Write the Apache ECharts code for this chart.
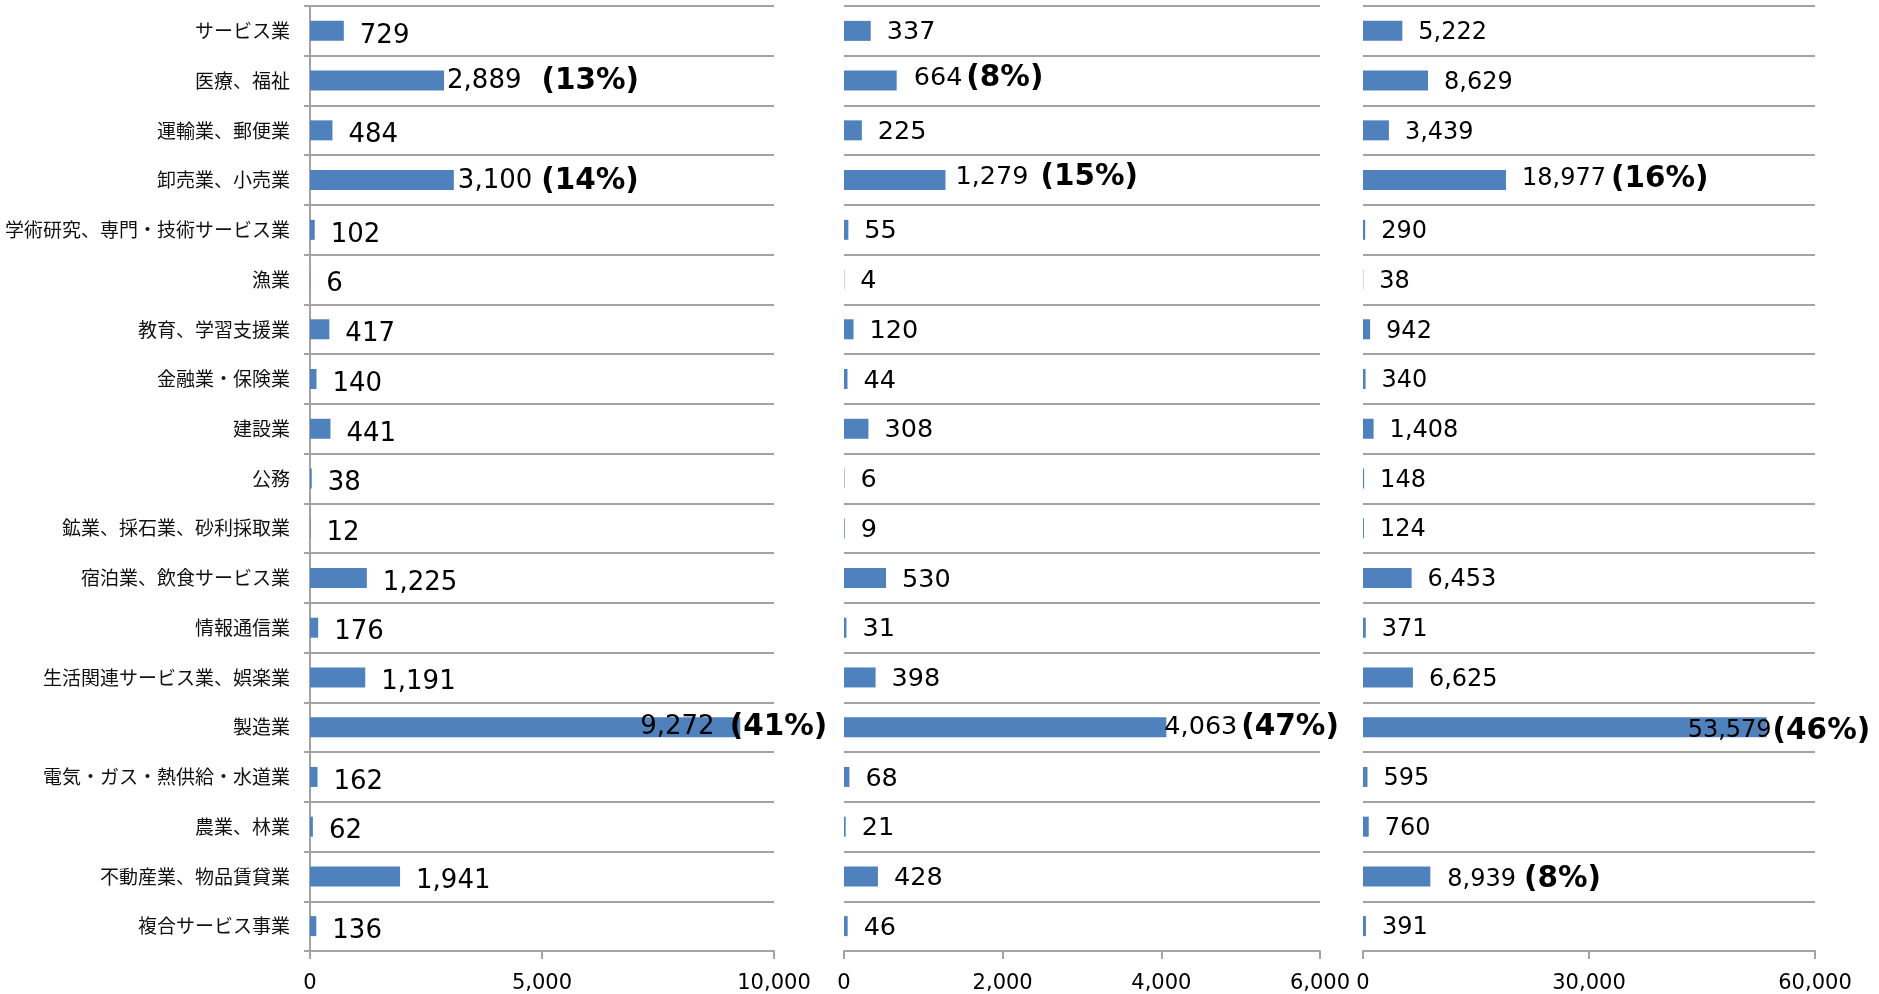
<!DOCTYPE html>
<html><head><meta charset="utf-8">
<script src="https://cdn.jsdelivr.net/npm/echarts@6/dist/echarts.min.js"></script>
<style>html,body{margin:0;padding:0;background:#fff;}#c{width:1879px;height:994px;}</style>
</head><body><div id="c"></div>
<script>
var categories = ['サービス業','医療、福祉','運輸業、郵便業','卸売業、小売業','学術研究、専門・技術サービス業','漁業','教育、学習支援業','金融業・保険業','建設業','公務','鉱業、採石業、砂利採取業','宿泊業、飲食サービス業','情報通信業','生活関連サービス業、娯楽業','製造業','電気・ガス・熱供給・水道業','農業、林業','不動産業、物品賃貸業','複合サービス事業'];
var values1 = [729,2889,484,3100,102,6,417,140,441,38,12,1225,176,1191,9272,162,62,1941,136];
var values2 = [337,664,225,1279,55,4,120,44,308,6,9,530,31,398,4063,68,21,428,46];
var values3 = [5222,8629,3439,18977,290,38,942,340,1408,148,124,6453,371,6625,53579,595,760,8939,391];
var pct1 = [null,13,null,14,null,null,null,null,null,null,null,null,null,null,41,null,null,null,null];
var pct2 = [null,8,null,15,null,null,null,null,null,null,null,null,null,null,47,null,null,null,null];
var pct3 = [null,null,null,16,null,null,null,null,null,null,null,null,null,null,46,null,null,8,null];
var axisMax = [10000, 6000, 60000];
var axisInterval = [5000, 2000, 30000];

// label placement tweaks (style only): d = distance, g = gap before %, y = vertical shift
var tweaks = [
  {1:{d:3,g:20,y:1}, 3:{d:4,g:9,y:1}, 14:{d:-100,g:15,y:0}},
  {1:{d:17,g:4,y:-2}, 3:{d:10,g:12,y:-3}, 14:{d:-2,g:4,y:0}},
  {3:{d:16,g:5,y:-1}, 14:{d:-79,g:1,y:4}, 17:{d:17,g:8,y:3}}
];
var valFont = [26, 25.5, 24];
var pctFont = [29.5, 29.5, 29.5];
var valShift = [5, 2, 2];

var grids = [
  {left:310, right:1879-774, top:6, bottom:42},
  {left:844, right:1879-1320, top:6, bottom:42},
  {left:1363, right:1879-1815, top:6, bottom:42}
];
var seriesVals = [values1, values2, values3];
var seriesPct = [pct1, pct2, pct3];
var gray = '#a3a3a3';
function fmt(n){ return n.toString().replace(/\B(?=(\d{3})+(?!\d))/g, ','); }

var xAxes = [], yAxes = [], series = [];
for (var i = 0; i < 3; i++) {
  xAxes.push({
    type:'value', gridIndex:i, min:0, max:axisMax[i], interval:axisInterval[i],
    axisLine:{show:true, lineStyle:{color:gray, width:2}},
    axisTick:{show:true, length:8, lineStyle:{color:gray, width:2}},
    splitLine:{show:false},
    axisLabel:{fontFamily:'DejaVu Sans', fontSize:21, color:'#000', margin:22, formatter:function(v){return fmt(v);}}
  });
  yAxes.push({
    type:'category', gridIndex:i, data:categories, inverse:true,
    axisLine:{show:i===0, lineStyle:{color:gray, width:2}},
    axisTick:{show:i===0, length:6, lineStyle:{color:gray, width:2}},
    splitLine:{show:true, lineStyle:{color:gray, width:2}},
    axisLabel:{show:i===0, fontFamily:'Noto Sans CJK JP', fontSize:19, color:'#111', margin:20}
  });
  var vals = seriesVals[i], pcts = seriesPct[i];
  var data = vals.map(function(v, k){
    var t = tweaks[i][k];
    var item = {value:v};
    if (t) {
      item.label = {distance:t.d, offset:[0,t.y], rich:{
        v:{fontFamily:'DejaVu Sans', fontSize:valFont[i], color:'#000'},
        p:{fontFamily:'DejaVu Sans', fontSize:pctFont[i], fontWeight:'bold', color:'#000', padding:[0,0,0,t.g]}
      }};
    }
    return item;
  });
  (function(vals, pcts, idx){
    series.push({
      type:'bar', xAxisIndex:idx, yAxisIndex:idx, data:data, barWidth:20,
      itemStyle:{color:'#4f81bd'},
      label:{show:true, position:'right', distance:16, offset:[0,valShift[idx]],
        formatter:function(p){
          var s = '{v|' + fmt(vals[p.dataIndex]) + '}';
          if (pcts[p.dataIndex] != null) s += '{p|(' + pcts[p.dataIndex] + '%)}';
          return s;
        },
        rich:{
          v:{fontFamily:'DejaVu Sans', fontSize:valFont[idx], color:'#000'},
          p:{fontFamily:'DejaVu Sans', fontSize:pctFont[idx], fontWeight:'bold', color:'#000'}
        }
      }
    });
  })(vals, pcts, i);
}

var chart = echarts.init(document.getElementById('c'), null, {renderer:'canvas'});
chart.setOption({
  animation:false,
  grid:grids,
  xAxis:xAxes,
  yAxis:yAxes,
  series:series
});
</script>
</body></html>
